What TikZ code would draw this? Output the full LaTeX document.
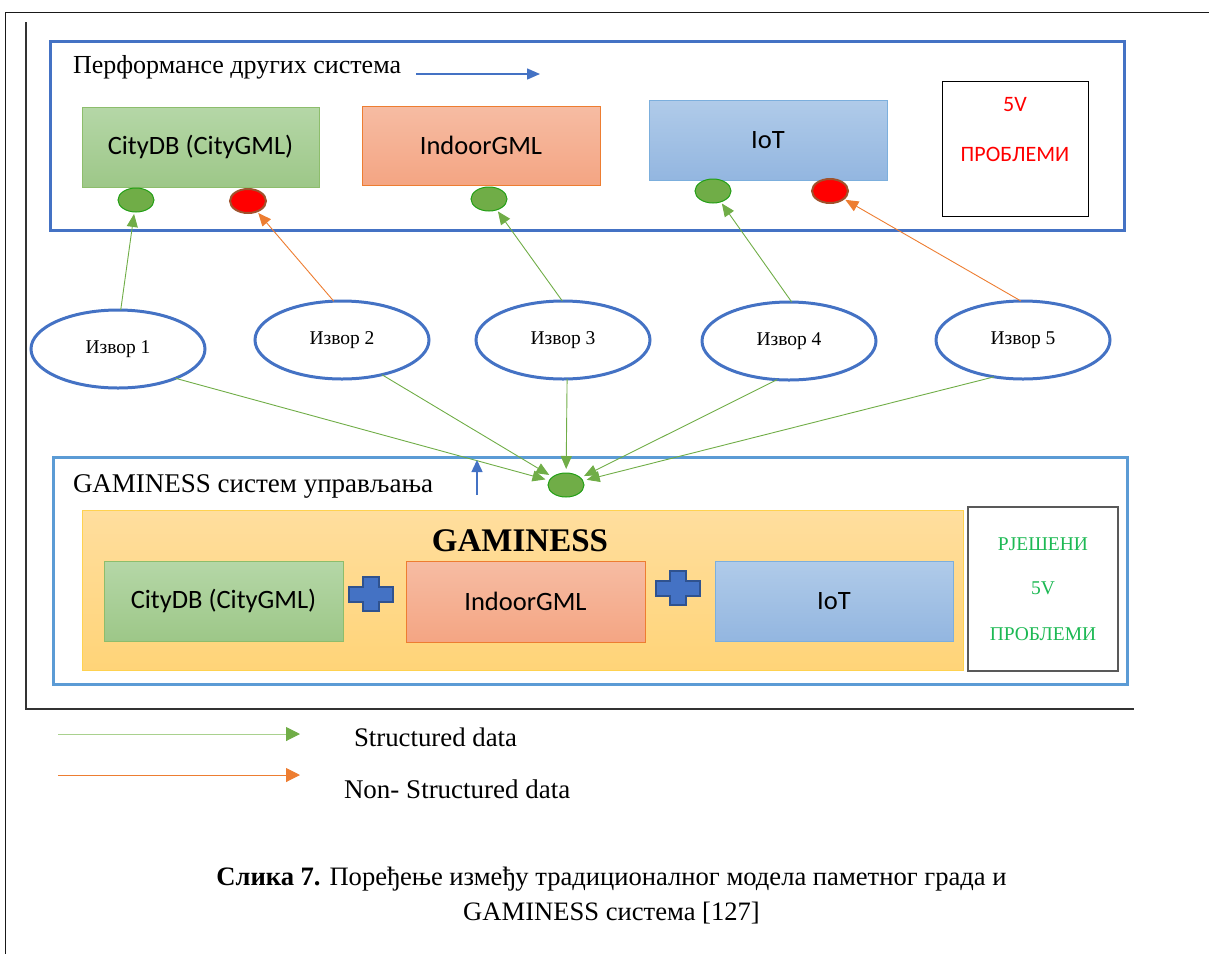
\documentclass[tikz,border=0pt]{standalone}
\usepackage{fontspec}
\setmainfont{Liberation Serif}
\newfontfamily\calib{Carlito}
\usetikzlibrary{arrows.meta,shapes.geometric}

\definecolor{frameblue}{HTML}{4472C4}
\definecolor{paleblue}{HTML}{5B9BD5}
\definecolor{sgreen}{HTML}{70AD47}
\definecolor{legendgreen}{HTML}{A9D18E}
\definecolor{sorange}{HTML}{ED7D31}
\definecolor{okgreen}{HTML}{1DB954}
\definecolor{plusedge}{HTML}{2F528F}

\newcommand{\txtsize}[1]{\fontsize{#1}{#1}\selectfont}

\begin{document}
\begin{tikzpicture}[x=1pt,y=-1pt,
  every node/.style={inner sep=0pt, outer sep=0pt},
  groupbox/.style={draw=frameblue, line width=3pt, rectangle},
  greenbox/.style={rectangle, draw=sgreen!80!white, line width=1pt, shade, top color={rgb,255:red,181;green,215;blue,167}, bottom color={rgb,255:red,157;green,199;blue,136}, font=\calib\txtsize{26.5}},
  orangebox/.style={rectangle, draw=sorange, line width=1pt, shade, top color={rgb,255:red,246;green,188;blue,163}, bottom color={rgb,255:red,244;green,165;blue,131}, font=\calib\txtsize{26.5}},
  bluebox/.style={rectangle, draw=paleblue!80!white, line width=1pt, shade, top color={rgb,255:red,176;green,203;blue,233}, bottom color={rgb,255:red,147;green,182;blue,224}, font=\calib\txtsize{26.5}},
  source/.style={ellipse, draw=frameblue, line width=3pt, fill=white, minimum width=174pt, minimum height=78pt, font=\txtsize{19.5}},
  okdot/.style={ellipse, fill=sgreen, draw=green!60!black!70!sgreen, line width=1pt, minimum width=36pt, minimum height=24pt},
  baddot/.style={ellipse, fill=red, draw={rgb,255:red,160;green,82;blue,45}, line width=2pt, minimum width=36pt, minimum height=24pt},
  sflow/.style={draw=sgreen, line width=0.9pt, -{Triangle[length=13pt,width=11pt]}, shorten >=2pt},
  oflow/.style={draw=sorange, line width=0.9pt, -{Triangle[length=13pt,width=11pt]}, shorten >=2pt},
  plusmark/.style={fill=frameblue, draw=plusedge, line width=2pt, line join=miter},
  framerule/.style={draw=black!90, line width=1.8pt}
]
\useasboundingbox (0,0) rectangle (1209,954);

% page frame
\draw[framerule] (1209,12.5) -- (5.5,12.5) -- (5.5,954);
\draw[draw=black!80, line width=1.3pt] (26,22) -- (26,709) -- (1134,709);

% ---- upper group: other systems ----
\node[groupbox, minimum width=1074pt, minimum height=189pt] (upper) at (587,135.5) {};
\node[anchor=base west, font=\txtsize{26}] (uppertitle) at (73,73) {Перформансе других система};
\coordinate (ta1) at (416,74);
\coordinate (ta2) at (540,74);
\draw[draw=frameblue, line width=1.5pt, -{Triangle[length=13pt,width=11pt]}] (ta1) -- (ta2);

\node[greenbox, minimum width=237pt, minimum height=80pt] (ucity) at (200.5,147) {CityDB (CityGML)};
\node[orangebox, minimum width=238pt, minimum height=79pt] (uindoor) at (481,145.5) {IndoorGML};
\node[bluebox, minimum width=238pt, minimum height=80pt] (uiot) at (768,140) {IoT};

\node[draw=black, line width=1pt, fill=white, minimum width=146pt, minimum height=135pt] (probs) at (1015,148.5) {};
\node[font=\calib\txtsize{22}, text=red] (probs5v) at (1015,105) {5V};
\node[font=\calib\txtsize{22}, text=red] (probsword) at (1015,154) {ПРОБЛЕМИ};

\node[okdot] (d1) at (136,200) {};
\node[baddot] (d2) at (248,201) {};
\node[okdot] (d3) at (489,199) {};
\node[okdot] (d4) at (713,191) {};
\node[baddot] (d5) at (830,191) {};

% ---- data sources ----
\node[source] (e1) at (118,349) {Извор 1};
\node[source] (e2) at (342,340) {Извор 2};
\node[source] (e3) at (563,340) {Извор 3};
\node[source] (e4) at (789,341) {Извор 4};
\node[source] (e5) at (1023,340) {Извор 5};

\draw[sflow] (e1.86) -- (d1);
\draw[oflow] (e2.102) -- (d2);
\draw[sflow] (e3.91) -- (d3);
\draw[sflow] (e4.86) -- (d4);
\draw[oflow] (e5.93) -- (d5);

% ---- lower group: GAMINESS ----
\node[draw=paleblue, line width=3pt, minimum width=1074pt, minimum height=227pt] (lower) at (590,570.5) {};
\node[anchor=base west, font=\txtsize{27}] (lowertitle) at (73,492) {GAMINESS систем управљања};

\node[okdot] (cd) at (566,485) {};
\draw[sflow, shorten >=4pt] (e1.-27) -- (cd);
\draw[sflow, shorten >=4pt] (e2.-41) -- (cd);
\draw[sflow, shorten >=4pt] (e3.-84) -- (cd);
\draw[sflow, shorten >=4pt] (e4.-107) -- (cd);
\draw[sflow, shorten >=4pt] (e5.-128) -- (cd);

\coordinate (ua1) at (477,495);
\coordinate (ua2) at (477,460);
\draw[draw=frameblue, line width=1.5pt, -{Triangle[length=12pt,width=11pt]}] (ua1) -- (ua2);

\node[rectangle, draw={rgb,255:red,255;green,210;blue,80}, line width=1pt, shade, top color={rgb,255:red,255;green,222;blue,158}, bottom color={rgb,255:red,255;green,212;blue,120}, minimum width=881pt, minimum height=160pt] (gam) at (522.5,590) {};
\node[anchor=base, font=\bfseries\txtsize{33}] (gamtitle) at (520,551) {GAMINESS};

\node[greenbox, minimum width=239pt, minimum height=80pt] (lcity) at (223.5,601) {CityDB (CityGML)};
\node[orangebox, minimum width=239pt, minimum height=81pt] (lindoor) at (525.5,601.5) {IndoorGML};
\node[bluebox, minimum width=238pt, minimum height=80pt] (liot) at (834,601) {IoT};

\draw[plusmark, shift={(371,594)}] (-22,-7.5) -- (-8,-7.5) -- (-8,-17) -- (8,-17) -- (8,-7.5) -- (22,-7.5) -- (22,7.5) -- (8,7.5) -- (8,17) -- (-8,17) -- (-8,7.5) -- (-22,7.5) -- cycle;
\draw[plusmark, shift={(678,588)}] (-22,-7.5) -- (-8,-7.5) -- (-8,-17) -- (8,-17) -- (8,-7.5) -- (22,-7.5) -- (22,7.5) -- (8,7.5) -- (8,17) -- (-8,17) -- (-8,7.5) -- (-22,7.5) -- cycle;

\node[draw=black!65, line width=1.3pt, fill=white, minimum width=150pt, minimum height=164pt] (solved) at (1043,589) {};
\node[font=\txtsize{19.5}, text=okgreen] (solvedA) at (1043,544) {РЈЕШЕНИ};
\node[font=\txtsize{19.5}, text=okgreen] (solvedB) at (1043,588) {5V};
\node[font=\txtsize{19.5}, text=okgreen] (solvedC) at (1043,634) {ПРОБЛЕМИ};

% ---- legend ----
\coordinate (lg1) at (58,734);
\coordinate (lg2) at (300,734);
\coordinate (lo1) at (58,775);
\coordinate (lo2) at (300,775);
\draw[draw=legendgreen, line width=1pt, -{Triangle[length=14pt,width=14pt,color=sgreen]}] (lg1) -- (lg2);
\draw[draw=sorange, line width=1pt, -{Triangle[length=14pt,width=14pt]}] (lo1) -- (lo2);
\node[anchor=west, font=\txtsize{26.8}] (legS) at (354,737) {Structured data};
\node[anchor=west, font=\txtsize{27}] (legN) at (344,789) {Non- Structured data};

% ---- caption ----
\node[font=\txtsize{26.6}] (cap1) at (611.5,879) {\textbf{Слика 7.} Поређење између традиционалног модела паметног града и};
\node[font=\txtsize{26.6}] (cap2) at (611.5,913) {GAMINESS система [127]};
\end{tikzpicture}
\end{document}
